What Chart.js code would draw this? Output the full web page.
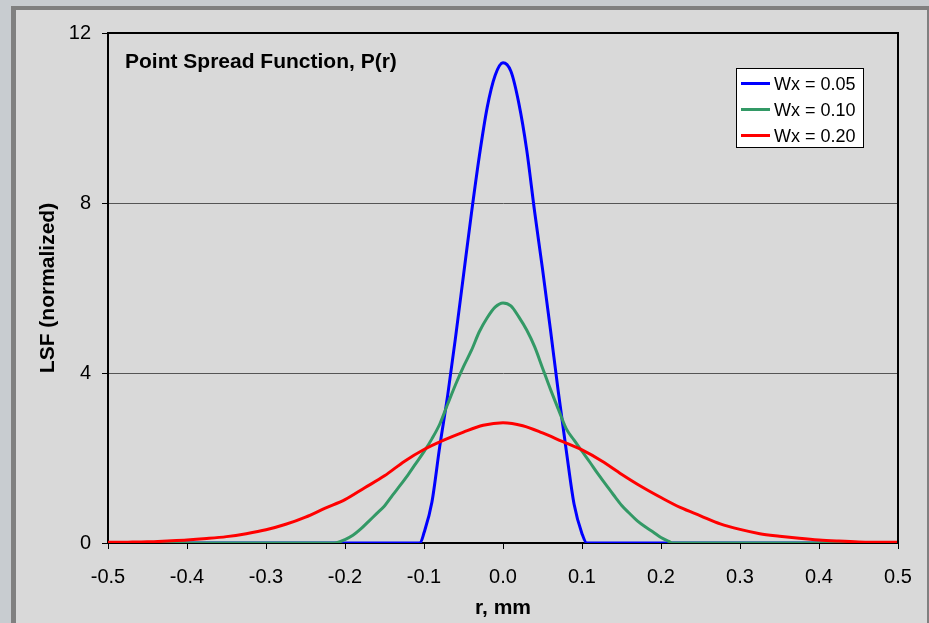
<!DOCTYPE html>
<html>
<head>
<meta charset="utf-8">
<script src="https://cdn.jsdelivr.net/npm/chart.js@4"></script>
<style>
  html, body { margin: 0; padding: 0; background: #c8ccd0; }
  #wrap { width: 929px; height: 623px; position: relative; }
</style>
</head>
<body>
<div id="wrap"><canvas id="psf"></canvas></div>
<script>
const chartTitle = "Point Spread Function, P(r)";
const xTitle = "r, mm";
const yTitle = "LSF (normalized)";
const seriesNames = ["Wx = 0.05", "Wx = 0.10", "Wx = 0.20"];
const seriesColors = ["#0000ff", "#339966", "#ff0000"];

// Wx = 0.05
const blueR = [-0.5, -0.105, -0.10, -0.09, -0.08, -0.07, -0.06, -0.05, -0.04, -0.03, -0.02, -0.01, 0,
  0.01, 0.02, 0.03, 0.04, 0.05, 0.06, 0.07, 0.08, 0.09, 0.10, 0.106, 0.5];
const blueY = [0, 0, 0.24, 0.96, 2.28, 3.48, 4.85, 6.3, 7.75, 9.1, 10.25, 11.0, 11.3,
  11.1, 10.35, 9.25, 7.8, 6.45, 5.03, 3.56, 2.19, 0.91, 0.22, 0, 0];

// Wx = 0.10
const greenR = [-0.5, -0.213, -0.20, -0.19, -0.18, -0.17, -0.16, -0.15, -0.14, -0.13, -0.12, -0.11,
  -0.10, -0.09, -0.08, -0.07, -0.06, -0.05, -0.04, -0.03, -0.02, -0.01, 0,
  0.01, 0.02, 0.03, 0.04, 0.05, 0.06, 0.07, 0.08, 0.09, 0.10, 0.11, 0.12, 0.13, 0.14,
  0.15, 0.16, 0.17, 0.18, 0.19, 0.20, 0.21, 0.215, 0.5];
const greenY = [0, 0, 0.08, 0.18, 0.33, 0.51, 0.69, 0.87, 1.12, 1.36, 1.61, 1.88,
  2.15, 2.45, 2.8, 3.27, 3.73, 4.15, 4.53, 4.97, 5.30, 5.55, 5.65,
  5.58, 5.32, 5.01, 4.62, 4.12, 3.62, 3.15, 2.69, 2.42, 2.16, 1.90, 1.63, 1.38, 1.13,
  0.89, 0.70, 0.52, 0.38, 0.26, 0.13, 0.04, 0, 0];

// Wx = 0.20
const redR = [-0.5, -0.475, -0.45, -0.425, -0.4, -0.375, -0.35, -0.325, -0.3, -0.275,
  -0.25, -0.225, -0.2, -0.175, -0.15, -0.125, -0.1, -0.075, -0.05, -0.025, 0,
  0.025, 0.05, 0.075, 0.1, 0.125, 0.15, 0.175, 0.2, 0.225, 0.25,
  0.275, 0.3, 0.325, 0.35, 0.375, 0.4, 0.425, 0.45, 0.475, 0.5];
const redY = [0.016, 0.02, 0.027, 0.047, 0.07, 0.105, 0.15, 0.22, 0.31, 0.44,
  0.61, 0.82, 1.02, 1.3, 1.58, 1.92, 2.2, 2.42, 2.61, 2.77, 2.83,
  2.76, 2.59, 2.39, 2.19, 1.93, 1.62, 1.33, 1.07, 0.83, 0.64,
  0.45, 0.32, 0.22, 0.16, 0.11, 0.07, 0.045, 0.026, 0.019, 0.016];

const FONT = "'Liberation Sans', Arial, sans-serif";

function pts(xs, ys) {
  return xs.map((x, i) => ({ x: x, y: ys[i] }));
}

const allR = [blueR, greenR, redR];
const allY = [blueY, greenY, redY];

const datasets = seriesNames.map((name, i) => ({
  label: name,
  data: pts(allR[i], allY[i]),
  borderColor: seriesColors[i],
  backgroundColor: seriesColors[i],
  borderWidth: 3,
  pointRadius: 0,
  fill: false,
  cubicInterpolationMode: 'monotone',
  order: 2 - i
}));

// frame, background, title and legend box drawn like the Excel chart
const decor = {
  id: 'decor',
  beforeDraw(chart) {
    const ctx = chart.ctx;
    ctx.save();
    ctx.fillStyle = '#c8ccd0';
    ctx.fillRect(0, 0, chart.width, chart.height);
    ctx.fillStyle = '#808080';
    ctx.fillRect(11, 6, chart.width - 11, chart.height - 6);
    ctx.fillStyle = '#d9d9d9';
    ctx.fillRect(16, 10, 911, chart.height - 10);
    ctx.restore();
  },
  afterDraw(chart) {
    const ctx = chart.ctx;
    const a = chart.chartArea;
    ctx.save();
    ctx.strokeStyle = '#000';
    ctx.lineWidth = 2;
    ctx.beginPath();
    ctx.moveTo(a.left, a.top);
    ctx.lineTo(a.right, a.top);
    ctx.lineTo(a.right, a.bottom);
    ctx.stroke();

    ctx.fillStyle = '#000';
    ctx.font = 'bold 21px ' + FONT;
    ctx.textBaseline = 'alphabetic';
    ctx.textAlign = 'left';
    ctx.fillText(chartTitle, 125, 68);

    // legend
    ctx.fillStyle = '#fff';
    ctx.fillRect(736.5, 68.5, 127, 79);
    ctx.lineWidth = 1;
    ctx.strokeStyle = '#000';
    ctx.strokeRect(736.5, 68.5, 127, 79);
    ctx.font = '18px ' + FONT;
    chart.data.datasets.forEach((ds, i) => {
      const y = 83.5 + 26 * i;
      ctx.strokeStyle = ds.borderColor;
      ctx.lineWidth = 3;
      ctx.beginPath();
      ctx.moveTo(741, y);
      ctx.lineTo(770, y);
      ctx.stroke();
      ctx.fillStyle = '#000';
      ctx.fillText(ds.label, 774, y + 6);
    });
    ctx.restore();
  }
};

const config = {
  type: 'line',
  data: { datasets: datasets },
  options: {
    responsive: true,
    maintainAspectRatio: false,
    animation: false,
    devicePixelRatio: 1,
    layout: { padding: { left: 0, top: 33, right: 31, bottom: 0 } },
    plugins: {
      legend: { display: false },
      title: { display: false },
      tooltip: { enabled: false }
    },
    scales: {
      x: {
        type: 'linear',
        min: -0.5,
        max: 0.5,
        afterFit(scale) { scale.height = 80; },
        ticks: {
          stepSize: 0.1,
          autoSkip: false,
          maxRotation: 0,
          color: '#000',
          padding: 16,
          font: { family: FONT, size: 20 },
          callback(v) { return Math.abs(v) < 1e-9 ? '0.0' : Number(v).toFixed(1); }
        },
        grid: { drawOnChartArea: false, drawTicks: true, tickLength: 6, tickColor: '#000', lineWidth: 1 },
        border: { display: true, color: '#000', width: 2 },
        title: {
          display: true,
          text: xTitle,
          color: '#000',
          font: { family: FONT, size: 21, weight: 'bold' },
          padding: { top: 0, bottom: 2 }
        }
      },
      y: {
        min: 0,
        max: 12,
        afterFit(scale) { scale.width = 108; },
        ticks: {
          stepSize: 4,
          color: '#000',
          padding: 11,
          font: { family: FONT, size: 20 }
        },
        grid: { color: '#555', lineWidth: 1, drawTicks: true, tickLength: 6, tickColor: '#000' },
        border: { display: true, color: '#000', width: 2 },
        title: {
          display: true,
          text: yTitle,
          color: '#000',
          font: { family: FONT, size: 21, weight: 'bold' },
          padding: { top: 36, bottom: 0 }
        }
      }
    }
  },
  plugins: [decor]
};

const ctxPsf = document.getElementById('psf').getContext('2d');
const psfChart = new Chart(ctxPsf, config);
</script>
</body>
</html>
